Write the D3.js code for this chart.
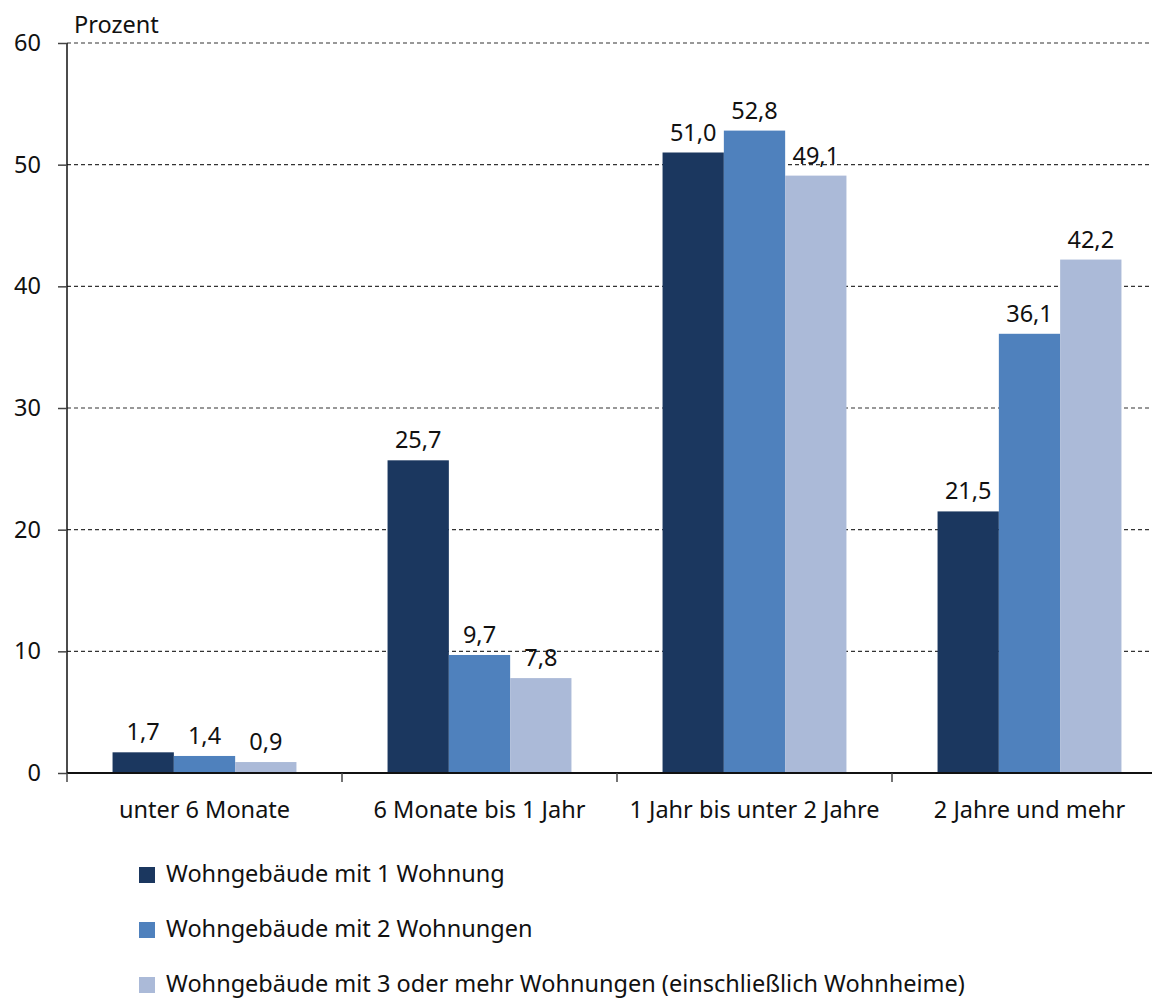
<!DOCTYPE html>
<html>
<head>
<meta charset="utf-8">
<script src="https://cdn.jsdelivr.net/npm/d3@7"></script>
<style>
  body { margin: 0; background: #fff; }
  text { font-family: "Noto Sans", Lato, sans-serif; fill: #111; }
</style>
</head>
<body>
<div id="chart"></div>
<script>
const categories = ['unter 6 Monate', '6 Monate bis 1 Jahr', '1 Jahr bis unter 2 Jahre', '2 Jahre und mehr'];
const seriesNames = [
    'Wohngebäude mit 1 Wohnung',
    'Wohngebäude mit 2 Wohnungen',
    'Wohngebäude mit 3 oder mehr Wohnungen (einschließlich Wohnheime)'
];
const oneFlat = [1.7, 25.7, 51.0, 21.5];
const twoFlats = [1.4, 9.7, 52.8, 36.1];
const threePlus = [0.9, 7.8, 49.1, 42.2];
const yTicks = [0, 10, 20, 30, 40, 50, 60];
const colours = ['#1b375f', '#4f81bd', '#abbad8'];

const allSeries = [oneFlat, twoFlats, threePlus];

const width = 1152;
const height = 1001;
const plotLeft = 67;
const plotTop = 43;
const plotBottom = 773;
const fontSize = '23.5px';

const svg = d3.select('#chart')
    .append('svg')
        .attr('width', width)
        .attr('height', height);

const xScale = d3.scaleBand()
    .domain(categories)
    .range([plotLeft, plotLeft + 275 * 4])
    .padding(0);

const xInner = d3.scaleBand()
    .domain(d3.range(seriesNames.length))
    .range([0, xScale.bandwidth()])
    .paddingInner(0)
    .paddingOuter(0.743);

const yScale = d3.scaleLinear()
    .domain([0, 60])
    .range([plotBottom, plotTop]);

// dashed grid
svg.append('g')
    .selectAll('line')
    .data(yTicks.filter(d => d > 0))
    .enter()
        .append('line')
            .attr('x1', plotLeft)
            .attr('x2', width)
            .attr('y1', d => yScale(d))
            .attr('y2', d => yScale(d))
            .attr('stroke', '#333')
            .attr('stroke-width', 1.2)
            .attr('stroke-dasharray', '4,3');

// bars
allSeries.forEach((values, s) => {
    svg.append('g')
        .selectAll('rect')
        .data(values)
        .enter()
            .append('rect')
                .attr('x', (d, i) => xScale(categories[i]) + xInner(s))
                .attr('y', d => yScale(d))
                .attr('width', xInner.bandwidth())
                .attr('height', d => plotBottom - yScale(d))
                .attr('fill', colours[s]);

    svg.append('g')
        .selectAll('text')
        .data(values)
        .enter()
            .append('text')
                .attr('x', (d, i) => xScale(categories[i]) + xInner(s) + xInner.bandwidth() / 2)
                .attr('y', d => yScale(d) - 12)
                .attr('text-anchor', 'middle')
                .style('font-size', fontSize)
                .text(d => d.toFixed(1).replace('.', ','));
});

// y axis
const yAxis = svg.append('g')
    .attr('transform', `translate(${plotLeft}, 0)`)
    .call(d3.axisLeft(yScale).tickValues(yTicks).tickSize(9).tickPadding(17));
yAxis.select('.domain').attr('stroke', '#111').attr('stroke-width', 1.5).attr('d', `M0,${plotTop}V${plotBottom}`);
yAxis.selectAll('.tick line').attr('stroke', '#444').attr('stroke-width', 1.5);
yAxis.selectAll('.tick text').style('font-size', fontSize).attr('fill', '#111');

// x axis
const xAxis = svg.append('g')
    .attr('transform', `translate(0, ${plotBottom})`)
    .call(d3.axisBottom(xScale).tickSize(0).tickPadding(28));
xAxis.select('.domain').attr('stroke', '#111').attr('stroke-width', 2).attr('d', `M${plotLeft},0H${width}`);
xAxis.selectAll('.tick text').style('font-size', fontSize).attr('fill', '#111');

svg.append('g')
    .selectAll('line')
    .data(categories)
    .enter()
        .append('line')
            .attr('x1', d => xScale(d))
            .attr('x2', d => xScale(d))
            .attr('y1', plotBottom)
            .attr('y2', plotBottom + 9)
            .attr('stroke', '#444')
            .attr('stroke-width', 1.5);

// unit label
svg.append('text')
    .attr('x', 74)
    .attr('y', 33)
    .style('font-size', fontSize)
    .text('Prozent');

// legend
const legend = svg.append('g')
    .selectAll('g')
    .data(seriesNames)
    .enter()
        .append('g')
            .attr('transform', (d, i) => `translate(139, ${867 + i * 55})`);

legend.append('rect')
    .attr('width', 16)
    .attr('height', 16)
    .attr('fill', (d, i) => colours[i]);

legend.append('text')
    .attr('x', 27)
    .attr('y', 15)
    .style('font-size', fontSize)
    .text(d => d);
</script>
</body>
</html>
